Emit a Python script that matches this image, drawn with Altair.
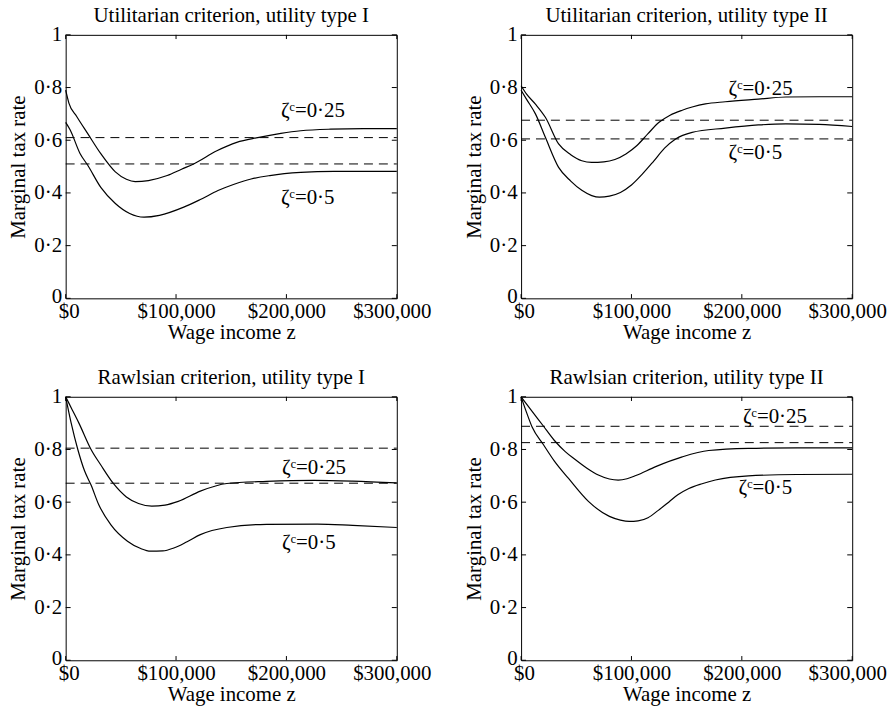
import altair as alt
import pandas as pd

FONT = "Liberation Serif"
FS = 21

TITLES = [
    "Utilitarian criterion, utility type I",
    "Utilitarian criterion, utility type II",
    "Rawlsian criterion, utility type I",
    "Rawlsian criterion, utility type II",
]
X_TICKS = [0, 100000, 200000, 300000]
Y_TICKS = [0, 0.2, 0.4, 0.6, 0.8, 1.0]
LABEL_HI = "ζᶜ=0·25"
LABEL_LO = "ζᶜ=0·5"

# Panel 1: Utilitarian, type I
p1_hi_x = [0, 3000, 10000, 20000, 32000, 45000, 55000, 63000, 75000, 92000, 105000, 116000, 137000, 155000, 174000, 195000, 213000, 240000, 270000, 300000]
p1_hi_y = [0.79, 0.74, 0.69, 0.625, 0.548, 0.48, 0.452, 0.443, 0.447, 0.466, 0.49, 0.51, 0.56, 0.592, 0.61, 0.626, 0.636, 0.642, 0.644, 0.644]
p1_lo_x = [0, 4000, 13000, 20000, 32000, 45000, 58000, 71000, 85000, 107000, 122000, 138000, 152000, 168000, 185000, 213000, 243000, 270000, 300000]
p1_lo_y = [0.668, 0.64, 0.55, 0.505, 0.42, 0.36, 0.322, 0.308, 0.315, 0.346, 0.375, 0.409, 0.432, 0.453, 0.466, 0.478, 0.482, 0.482, 0.482]
p1_dash = [0.61, 0.51]

# Panel 2: Utilitarian, type II
p2_hi_x = [0, 5000, 13000, 22000, 34000, 45000, 55000, 64000, 75000, 85000, 95000, 105000, 115000, 125000, 135000, 146000, 155000, 167000, 185000, 215000, 240000, 270000, 300000]
p2_hi_y = [0.807, 0.775, 0.737, 0.687, 0.586, 0.545, 0.522, 0.516, 0.518, 0.527, 0.548, 0.58, 0.625, 0.668, 0.695, 0.714, 0.726, 0.738, 0.746, 0.756, 0.764, 0.765, 0.765]
p2_lo_x = [0, 5000, 13000, 22000, 34000, 45000, 55000, 64000, 71000, 80000, 90000, 100000, 110000, 120000, 130000, 140000, 155000, 185000, 215000, 240000, 270000, 300000]
p2_lo_y = [0.79, 0.755, 0.70, 0.611, 0.497, 0.445, 0.41, 0.39, 0.384, 0.388, 0.402, 0.43, 0.472, 0.52, 0.57, 0.605, 0.63, 0.646, 0.658, 0.662, 0.66, 0.652]
p2_dash = [0.676, 0.605]

# Panel 3: Rawlsian, type I
p3_hi_x = [0, 6000, 12000, 23000, 32000, 43000, 55000, 66000, 78000, 90000, 102000, 122000, 146000, 182000, 225000, 260000, 300000]
p3_hi_y = [1.0, 0.95, 0.9, 0.8, 0.74, 0.672, 0.62, 0.595, 0.585, 0.589, 0.603, 0.642, 0.671, 0.679, 0.683, 0.68, 0.673]
p3_lo_x = [0, 5000, 11000, 17000, 23000, 30000, 41000, 56000, 68000, 77000, 88000, 98000, 110000, 122000, 146000, 182000, 228000, 260000, 300000]
p3_lo_y = [1.0, 0.9, 0.8, 0.72, 0.665, 0.59, 0.514, 0.452, 0.424, 0.414, 0.415, 0.426, 0.45, 0.477, 0.504, 0.516, 0.517, 0.512, 0.504]
p3_dash = [0.805, 0.672]

# Panel 4: Rawlsian, type II
p4_hi_x = [0, 10000, 20000, 30000, 40000, 49000, 60000, 70000, 80000, 88000, 96000, 104000, 122000, 146000, 170000, 206000, 250000, 300000]
p4_hi_y = [1.0, 0.945, 0.89, 0.835, 0.792, 0.762, 0.728, 0.703, 0.688, 0.684, 0.689, 0.701, 0.735, 0.772, 0.796, 0.804, 0.806, 0.806]
p4_lo_x = [0, 5000, 10000, 20000, 30000, 43000, 61000, 80000, 90000, 98000, 106000, 115000, 124000, 134000, 142000, 152000, 164000, 176000, 206000, 250000, 300000]
p4_lo_y = [1.0, 0.94, 0.885, 0.82, 0.757, 0.69, 0.603, 0.546, 0.532, 0.527, 0.529, 0.541, 0.568, 0.601, 0.628, 0.652, 0.670, 0.684, 0.70, 0.705, 0.706]
p4_dash = [0.888, 0.826]

# label anchor positions (x, y) for ζ=0.25 and ζ=0.5
p1_lab = [(195000, 0.71), (195000, 0.38)]
p2_lab = [(188000, 0.795), (188000, 0.55)]
p3_lab = [(196000, 0.73), (196000, 0.445)]
p4_lab = [(201000, 0.925), (197000, 0.653)]

W, H = 333, 265


def panel(title, hx, hy, lx, ly, dash, labs):
    curves = pd.DataFrame({
        "x": hx + lx,
        "y": hy + ly,
        "s": ["0.25"] * len(hx) + ["0.5"] * len(lx),
    })
    dashes = pd.DataFrame({"x": [0] * len(dash), "x2": [300000] * len(dash), "y": dash})
    labels = pd.DataFrame({
        "x": [labs[0][0], labs[1][0]],
        "y": [labs[0][1], labs[1][1]],
        "t": [LABEL_HI, LABEL_LO],
    })
    xt = pd.DataFrame({"x": X_TICKS * 2,
                       "y": [0.0] * 4 + [1.0] * 4,
                       "y2": [0.016] * 4 + [0.984] * 4})
    yt = pd.DataFrame({"y": Y_TICKS * 2,
                       "x": [0] * 6 + [300000] * 6,
                       "x2": [4500] * 6 + [295500] * 6})

    xs = alt.Scale(domain=[0, 300000], nice=False, zero=False)
    ys = alt.Scale(domain=[0, 1], nice=False, zero=False)
    X = alt.X("x:Q", scale=xs, axis=alt.Axis(
        values=X_TICKS, labelExpr="'$' + format(datum.value, ',')",
        title="Wage income z", grid=False, ticks=False, domain=False,
        labelPadding=2, titlePadding=0, labelFlush=False, labelOverlap=False,
        labelOffset={"expr": "datum.value == 300000 ? -5 : (datum.value == 0 ? 3 : 0)"}))
    Y = alt.Y("y:Q", scale=ys, axis=alt.Axis(
        values=Y_TICKS, labelExpr="replace(format(datum.value, '.1~f'), '.', '·')",
        title="Marginal tax rate", grid=False, ticks=False, domain=False,
        labelPadding=4, titlePadding=5, labelFlush=False, labelOverlap=False,
        labelOffset={"expr": "datum.value == 0 ? -2 : 0"}))

    lines = alt.Chart(curves).mark_line(color="black", strokeWidth=1.2, interpolate="monotone").encode(
        x=X, y=Y, detail="s:N")
    drules = alt.Chart(dashes).mark_rule(color="black", strokeWidth=1, strokeDash=[9, 6]).encode(
        x=X, x2="x2:Q", y=Y)
    xtick = alt.Chart(xt).mark_rule(color="black", strokeWidth=1).encode(x=X, y=Y, y2="y2:Q")
    ytick = alt.Chart(yt).mark_rule(color="black", strokeWidth=1).encode(x=X, x2="x2:Q", y=Y)
    text = alt.Chart(labels).mark_text(
        align="left", baseline="middle", font=FONT, fontSize=FS, color="black").encode(
        x=X, y=Y, text="t:N")
    return alt.layer(drules, lines, xtick, ytick, text).properties(
        width=W, height=H,
        title=alt.TitleParams(title, offset=-2))


charts = [
    panel(TITLES[0], p1_hi_x, p1_hi_y, p1_lo_x, p1_lo_y, p1_dash, p1_lab),
    panel(TITLES[1], p2_hi_x, p2_hi_y, p2_lo_x, p2_lo_y, p2_dash, p2_lab),
    panel(TITLES[2], p3_hi_x, p3_hi_y, p3_lo_x, p3_lo_y, p3_dash, p3_lab),
    panel(TITLES[3], p4_hi_x, p4_hi_y, p4_lo_x, p4_lo_y, p4_dash, p4_lab),
]

chart = alt.concat(*charts, columns=2, spacing={"row": 99, "column": 125}, bounds="flush").properties(
    padding={"left": -1, "top": -6, "right": 0, "bottom": 0}
).configure(background="white").configure_view(
    stroke="black", strokeWidth=1
).configure_axis(
    labelFont=FONT, labelFontSize=FS, labelColor="black",
    titleFont=FONT, titleFontSize=FS, titleFontWeight="normal", titleColor="black"
).configure_title(
    font=FONT, fontSize=FS, fontWeight="normal", color="black", anchor="middle"
)

chart.save("out.html", embed_options={"renderer": "svg", "actions": False})
